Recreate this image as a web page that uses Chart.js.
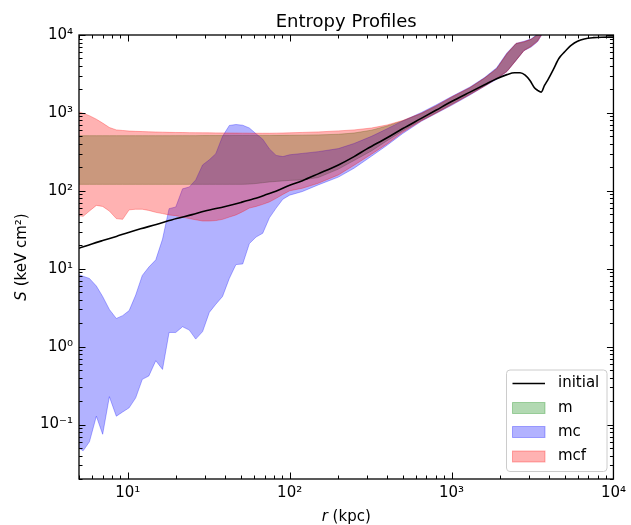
<!DOCTYPE html>
<html>
<head>
<meta charset="utf-8">
<script src="https://cdn.jsdelivr.net/npm/chart.js@4.4.1/dist/chart.umd.min.js"></script>
<style>
  html, body { margin: 0; padding: 0; background: #fff; }
  canvas { display: block; }
</style>
</head>
<body>
<canvas id="c" width="631" height="525"></canvas>
<script>
// ---------------- data ----------------
const rGrid = [5, 5.3, 5.8, 6.4, 7.0, 7.7, 8.5, 9.3, 10.2, 11.2, 12.3, 13.5, 14.9, 16.4, 18, 19.8, 21.8, 24, 26.3, 29,
               31.9, 35, 38.5, 42.4, 46.6, 51.3, 56.4, 62, 68.2, 75, 82.5, 90.8, 100, 120, 150, 200, 250, 320, 400, 500,
               650, 800, 1000, 1300, 1600, 1900, 2200, 2500, 2800, 3100, 3400, 3700];

// run "m" (green band)
const mLow  = [121, 121, 121, 121, 121, 121, 121, 121, 121, 121, 121, 121, 121, 121, 121, 121, 121, 121, 121, 121,
               121, 121, 121, 121, 121, 121, 122, 124, 127, 130, 132, 134, 136, 138, 148, 190, 245, 325, 440, 590,
               800, 1000, 1290, 1740, 2230, 2780, 3450, 4750, 6350, 7200, 8500, 11500];
const mHigh = [510, 510, 510, 510, 510, 510, 510, 510, 510, 510, 510, 510, 510, 510, 510, 511, 511, 511, 511, 512,
               512, 512, 512, 512, 513, 513, 513, 514, 514, 514, 515, 515, 516, 518, 522, 532, 552, 600, 680, 790,
               980, 1220, 1580, 2100, 2800, 3700, 5700, 7700, 8100, 8800, 10200, 13500];

// run "mc" (blue band)
const mcLow  = [0.05, 0.046, 0.06, 0.128, 0.075, 0.228, 0.128, 0.145, 0.164, 0.22, 0.38, 0.42, 0.66, 0.51, 1.52, 1.52, 1.8, 1.63, 1.25, 1.56,
                2.75, 3.5, 4.4, 7.5, 11.3, 11.5, 21, 25.5, 28.5, 45, 60, 78, 88, 98, 119, 150, 195, 278, 385, 545,
                780, 980, 1250, 1700, 2200, 2700, 3400, 4700, 6300, 7000, 8200, 11000];
const mcHigh = [8.4, 8.0, 7.5, 6.0, 4.4, 3.0, 2.3, 2.5, 2.9, 4.6, 8.2, 10.5, 13, 24, 59, 62, 106, 112, 138, 215,
                250, 300, 500, 690, 710, 695, 640, 540, 460, 345, 285, 275, 290, 302, 318, 348, 405, 500, 625, 790,
                1010, 1260, 1620, 2150, 2850, 3800, 5900, 7800, 8300, 8900, 10300, 13500];

// run "mcf" (red band)
const mcfLow  = [48, 47, 55, 65, 63, 55, 44, 43, 57, 58, 58, 56, 53, 51, 49, 48, 46, 44, 42.5, 41,
                 41, 41.5, 43, 46, 49, 54, 60, 63, 67, 72, 80, 90, 100, 108, 125, 160, 213, 295, 400, 565,
                 790, 990, 1270, 1720, 2200, 2750, 3400, 4700, 6300, 7100, 8300, 11000];
const mcfHigh = [1030, 990, 920, 830, 740, 650, 605, 595, 585, 580, 576, 572, 569, 566, 563, 561, 560, 558, 557, 556,
                 555, 554, 553, 552, 551, 550, 549, 548, 548, 548, 550, 552, 555, 562, 570, 588, 605, 640, 700, 800,
                 990, 1230, 1600, 2120, 2800, 3700, 5800, 7800, 8200, 8800, 10000, 13000];

// initial profile (black line)
const rInit = [5, 6, 7, 8.5, 10, 12, 15, 20, 25, 30, 40, 50, 60, 70, 85, 100, 120, 150, 200, 250,
               300, 400, 500, 650, 800, 1000, 1300, 1600, 1900, 2200, 2450, 2650, 2850, 3050, 3250, 3400, 3580, 3750, 3950, 4250,
               4600, 5000, 5500, 6000, 6600, 7500, 8500, 10000];
const sInit = [18.3, 20.8, 23, 26, 29, 32.5, 37, 44, 49.5, 55, 63, 71, 79, 88, 102, 118, 135, 165, 215, 275,
               345, 480, 630, 850, 1080, 1400, 1850, 2300, 2750, 3100, 3270, 3270, 3050, 2600, 2100, 1950, 1850, 2250, 2700, 3600,
               5000, 6100, 7400, 8300, 8900, 9250, 9370, 9400];

const seriesLabels = ['initial', 'm', 'mc', 'mcf'];
const xMajorTicks = [10, 100, 1000, 10000];
const xTickLabels = ['10¹', '10²', '10³', '10⁴'];
const yMajorTicks = [0.1, 1, 10, 100, 1000, 10000];
const yTickLabels = ['10⁻¹', '10⁰', '10¹', '10²', '10³', '10⁴'];
const titleText = 'Entropy Profiles';
const xTitle = ['r', ' (kpc)'];
const yTitle = ['S', ' (keV cm²)'];

// ---------------- styling ----------------
const FONT = "'DejaVu Sans', 'Liberation Sans', sans-serif";
const C_G = 'rgba(0,128,0,0.3)';
const C_B = 'rgba(0,0,255,0.3)';
const C_R = 'rgba(255,0,0,0.3)';

function pts(xs, ys) { return xs.map((x, i) => ({ x: x, y: ys[i] })); }

function minorTicks(lo, hi) {
  const out = [];
  for (let e = -3; e <= 5; e++) {
    for (let m = 1; m <= 9; m++) {
      const v = +(m * Math.pow(10, e)).toPrecision(6);
      if (v >= lo * 0.9999 && v <= hi * 1.0001) out.push(v);
    }
  }
  return out;
}
function isMajor(v, list) { return list.some(t => Math.abs(v / t - 1) < 1e-6); }
function labelFor(v, list, labels) {
  for (let i = 0; i < list.length; i++) if (Math.abs(v / list[i] - 1) < 1e-6) return labels[i];
  return '';
}

const bandBase = { pointRadius: 0, borderWidth: 1, tension: 0, clip: 0 };

const datasets = [
  { label: seriesLabels[0], data: pts(rInit, sInit), borderColor: '#000', borderWidth: 1.6,
    pointRadius: 0, tension: 0.3, cubicInterpolationMode: 'monotone', fill: false, order: 0, clip: 0 },
  Object.assign({ label: '_mLow', data: pts(rGrid, mLow), borderColor: C_G, fill: false, order: 3 }, bandBase),
  Object.assign({ label: seriesLabels[1], data: pts(rGrid, mHigh), borderColor: C_G, backgroundColor: C_G,
                  fill: '-1', order: 3 }, bandBase),
  Object.assign({ label: '_mcLow', data: pts(rGrid, mcLow), borderColor: C_B, fill: false, order: 2 }, bandBase),
  Object.assign({ label: seriesLabels[2], data: pts(rGrid, mcHigh), borderColor: C_B, backgroundColor: C_B,
                  fill: '-1', order: 2 }, bandBase),
  Object.assign({ label: '_mcfLow', data: pts(rGrid, mcfLow), borderColor: C_R, fill: false, order: 1 }, bandBase),
  Object.assign({ label: seriesLabels[3], data: pts(rGrid, mcfHigh), borderColor: C_R, backgroundColor: C_R,
                  fill: '-1', order: 1 }, bandBase)
];

const X_MIN = 5, X_MAX = 10000, Y_MIN = 0.02, Y_MAX = 10000;
const xAll = minorTicks(X_MIN, X_MAX);
const yAll = minorTicks(Y_MIN, Y_MAX);

const decor = {
  id: 'decor',
  afterDatasetsDraw(chart) {
    const ctx = chart.ctx, a = chart.chartArea;
    const xs = chart.scales.x, ys = chart.scales.y;
    ctx.save();
    ctx.strokeStyle = '#000';
    ctx.lineWidth = 1;
    xAll.forEach(v => {
      const p = Math.round(xs.getPixelForValue(v)) + 0.5;
      if (p < a.left || p > a.right) return;
      const L = isMajor(v, xMajorTicks) ? 6.5 : 3.5;
      ctx.beginPath();
      ctx.moveTo(p, a.bottom); ctx.lineTo(p, a.bottom - L);
      ctx.moveTo(p, a.top); ctx.lineTo(p, a.top + L);
      ctx.stroke();
    });
    yAll.forEach(v => {
      const p = Math.round(ys.getPixelForValue(v)) + 0.5;
      if (p < a.top - 1 || p > a.bottom + 1) return;
      const L = isMajor(v, yMajorTicks) ? 6.5 : 3.5;
      ctx.beginPath();
      ctx.moveTo(a.left, p); ctx.lineTo(a.left + L, p);
      ctx.moveTo(a.right, p); ctx.lineTo(a.right - L, p);
      ctx.stroke();
    });
    ctx.lineWidth = 1.3;
    ctx.strokeRect(a.left, a.top, a.right - a.left, a.bottom - a.top);
    ctx.restore();
  },
  afterDraw(chart) {
    const ctx = chart.ctx, a = chart.chartArea;
    const cx = (a.left + a.right) / 2, cy = (a.top + a.bottom) / 2;
    ctx.save();
    ctx.fillStyle = '#000';
    ctx.font = '18px ' + FONT;
    ctx.textAlign = 'center';
    ctx.textBaseline = 'alphabetic';
    ctx.fillText(titleText, cx, 26.5);
    const it = 'italic 15px ' + FONT, nt = '15px ' + FONT;
    ctx.textAlign = 'left';
    ctx.font = it; const w1 = ctx.measureText(xTitle[0]).width;
    ctx.font = nt; const w2 = ctx.measureText(xTitle[1]).width;
    const x0 = cx - (w1 + w2) / 2;
    ctx.font = it; ctx.fillText(xTitle[0], x0, 520.5);
    ctx.font = nt; ctx.fillText(xTitle[1], x0 + w1, 520.5);
    ctx.font = it; const v1 = ctx.measureText(yTitle[0]).width;
    ctx.font = nt; const v2 = ctx.measureText(yTitle[1]).width;
    ctx.translate(25.5, cy);
    ctx.rotate(-Math.PI / 2);
    const y0 = -(v1 + v2) / 2;
    ctx.font = it; ctx.fillText(yTitle[0], y0, 0);
    ctx.font = nt; ctx.fillText(yTitle[1], y0 + v1, 0);
    ctx.setTransform(1, 0, 0, 1, 0, 0);

    const bx = 506.5, by = 370, bw = 100.5, bh = 101.5, rr = 3.5;
    ctx.beginPath();
    ctx.moveTo(bx + rr, by);
    ctx.lineTo(bx + bw - rr, by); ctx.quadraticCurveTo(bx + bw, by, bx + bw, by + rr);
    ctx.lineTo(bx + bw, by + bh - rr); ctx.quadraticCurveTo(bx + bw, by + bh, bx + bw - rr, by + bh);
    ctx.lineTo(bx + rr, by + bh); ctx.quadraticCurveTo(bx, by + bh, bx, by + bh - rr);
    ctx.lineTo(bx, by + rr); ctx.quadraticCurveTo(bx, by, bx + rr, by);
    ctx.closePath();
    ctx.fillStyle = 'rgba(255,255,255,0.8)';
    ctx.fill();
    ctx.strokeStyle = '#cccccc';
    ctx.lineWidth = 1;
    ctx.stroke();

    const rows = [383.5, 408, 432, 456.5];
    const hx0 = 512.5, hx1 = 545;
    const entries = [
      { label: chart.data.datasets[0].label, kind: 'line', color: '#000' },
      { label: chart.data.datasets[2].label, kind: 'patch', color: C_G },
      { label: chart.data.datasets[4].label, kind: 'patch', color: C_B },
      { label: chart.data.datasets[6].label, kind: 'patch', color: C_R }
    ];
    entries.forEach((e, i) => {
      const y = rows[i];
      if (e.kind === 'line') {
        ctx.strokeStyle = e.color; ctx.lineWidth = 1.6;
        ctx.beginPath(); ctx.moveTo(hx0, y); ctx.lineTo(hx1, y); ctx.stroke();
      } else {
        ctx.fillStyle = e.color;
        ctx.fillRect(hx0, y - 5.5, hx1 - hx0, 11);
        ctx.strokeStyle = e.color; ctx.lineWidth = 1;
        ctx.strokeRect(hx0, y - 5.5, hx1 - hx0, 11);
      }
      ctx.fillStyle = '#000';
      ctx.font = '15px ' + FONT;
      ctx.textAlign = 'left';
      ctx.textBaseline = 'middle';
      ctx.fillText(e.label, 558, y);
    });
    ctx.restore();
  }
};

new Chart(document.getElementById('c').getContext('2d'), {
  type: 'line',
  data: { datasets: datasets },
  plugins: [decor],
  options: {
    responsive: false,
    animation: false,
    events: [],
    layout: { padding: { top: 35, right: 15, left: 0, bottom: 0 } },
    plugins: {
      legend: { display: false },
      title: { display: false },
      tooltip: { enabled: false }
    },
    scales: {
      x: {
        type: 'logarithmic', min: X_MIN, max: X_MAX,
        afterFit(s) { s.height = 46; },
        afterBuildTicks(s) { s.ticks = xAll.map(v => ({ value: v, major: isMajor(v, xMajorTicks) })); },
        grid: { display: false, drawTicks: false },
        border: { display: false },
        ticks: {
          autoSkip: false, maxRotation: 0, minRotation: 0, padding: 5, color: '#000',
          font: { family: FONT, size: 15 },
          callback: (v) => labelFor(v, xMajorTicks, xTickLabels)
        }
      },
      y: {
        type: 'logarithmic', min: Y_MIN, max: Y_MAX,
        afterFit(s) { s.width = 79; },
        afterBuildTicks(s) { s.ticks = yAll.map(v => ({ value: v, major: isMajor(v, yMajorTicks) })); },
        grid: { display: false, drawTicks: false },
        border: { display: false },
        ticks: {
          autoSkip: false, padding: 6, color: '#000',
          font: { family: FONT, size: 15 },
          callback: (v) => labelFor(v, yMajorTicks, yTickLabels)
        }
      }
    }
  }
});
</script>
</body>
</html>
